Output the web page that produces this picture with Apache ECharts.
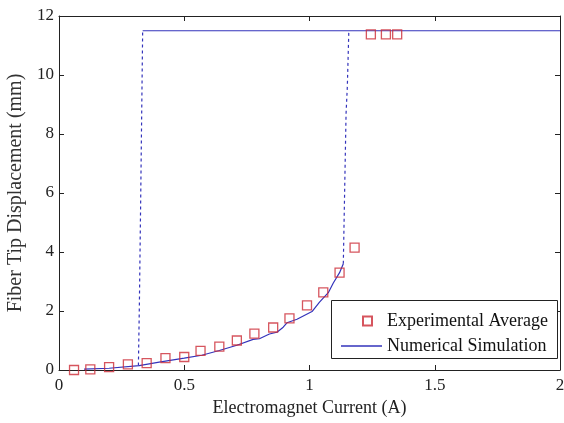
<!DOCTYPE html>
<html>
<head>
<meta charset="utf-8">
<script src="https://cdn.jsdelivr.net/npm/echarts@6/dist/echarts.min.js"></script>
<style>html,body{margin:0;padding:0;background:#fff}#c{width:564px;height:423px}</style>
</head>
<body>
<div id="c"></div>
<script>
// Experimental average [current A, displacement mm]
const expCurrent = [0.06, 0.125, 0.20, 0.275, 0.35, 0.425, 0.50, 0.565, 0.64, 0.71, 0.78, 0.855, 0.92, 0.99, 1.055, 1.12, 1.18, 1.245, 1.305, 1.35];
const expDisp    = [0.00, 0.02, 0.10, 0.19, 0.23, 0.40, 0.44, 0.65, 0.79, 1.00, 1.23, 1.44, 1.75, 2.19, 2.63, 3.30, 4.15, 11.38, 11.38, 11.38];

// Numerical simulation: lower (increasing current) branch
const simLowX = [0.10, 0.20, 0.32, 0.40, 0.50, 0.57, 0.64, 0.71, 0.775, 0.80, 0.84, 0.87, 0.895, 0.91, 0.95, 1.01, 1.04, 1.075, 1.095, 1.12, 1.135];
const simLowY = [0.03, 0.06, 0.15, 0.27, 0.40, 0.50, 0.66, 0.84, 1.04, 1.06, 1.22, 1.28, 1.45, 1.60, 1.72, 1.98, 2.30, 2.62, 2.95, 3.30, 3.60];
// Upper plateau
const simTopX = [0.334, 2.0];
const simTopY = [11.5, 11.5];
// Jump-down (left, dashed) and jump-up (right, dashed)
const jumpLeftX  = [0.317, 0.321, 0.326, 0.334];
const jumpLeftY  = [0.15, 2.3, 5.7, 11.5];
const jumpRightX = [1.135, 1.146, 1.151, 1.157];
const jumpRightY = [3.6, 8.7, 9.6, 11.5];

const xTicks = [0, 0.5, 1, 1.5, 2];
const yTicks = [0, 2, 4, 6, 8, 10, 12];

const zip = (a, b) => a.map((v, i) => [v, b[i]]);
const blue = '#3333bb';
const red = '#cc2b36';
const font = 'Liberation Serif';

const chart = echarts.init(document.getElementById('c'), null, {renderer: 'canvas'});
const axisCommon = {
  axisLine: {show: true, onZero: false, lineStyle: {color: '#222', width: 1}},
  axisTick: {show: true, inside: true, length: 5, lineStyle: {color: '#222'}},
  splitLine: {show: false}
};
chart.setOption({
  animation: false,
  backgroundColor: '#fff',
  grid: {left: 59, right: 4, top: 16, bottom: 53, containLabel: false, outerBoundsMode: 'none'},
  xAxis: [
    Object.assign({
      type: 'value', min: xTicks[0], max: xTicks[xTicks.length - 1], interval: 0.5,
      position: 'bottom',
      axisLabel: {color: '#222', fontFamily: font, fontSize: 17, margin: 7},
      name: 'Electromagnet Current (A)', nameLocation: 'middle', nameGap: 29,
      nameTextStyle: {color: '#222', fontFamily: font, fontSize: 18}
    }, axisCommon),
    Object.assign({
      type: 'value', min: xTicks[0], max: xTicks[xTicks.length - 1], interval: 0.5,
      position: 'top', axisLabel: {show: false}
    }, axisCommon)
  ],
  yAxis: [
    Object.assign({
      type: 'value', min: yTicks[0], max: yTicks[yTicks.length - 1], interval: 2,
      position: 'left',
      axisLabel: {color: '#222', fontFamily: font, fontSize: 17, margin: 5},
      name: 'Fiber Tip Displacement (mm)', nameLocation: 'middle', nameGap: 30,
      nameTextStyle: {color: '#333', fontFamily: font, fontSize: 20}
    }, axisCommon),
    Object.assign({
      type: 'value', min: yTicks[0], max: yTicks[yTicks.length - 1], interval: 2,
      position: 'right', axisLabel: {show: false}
    }, axisCommon)
  ],
  graphic: [{
    type: 'rect', left: 331, top: 300, z: 50,
    shape: {width: 226, height: 58},
    style: {fill: '#fff', stroke: '#222', lineWidth: 1}
  }],
  legend: [
    {
      data: [{name: 'Experimental Average', icon: 'rect'}], left: 357, top: 307, z: 60,
      itemWidth: 9, itemHeight: 9,
      textStyle: {color: '#111', fontFamily: font, fontSize: 18, padding: [0, 0, 0, 10]}
    },
    {
      data: [{name: 'Numerical Simulation', icon: 'rect'}], left: 336, top: 332, z: 60,
      itemWidth: 41, itemHeight: 1.3,
      itemStyle: {color: blue},
      textStyle: {color: '#111', fontFamily: font, fontSize: 18}
    }
  ],
  series: [
    {
      name: 'Numerical Simulation', type: 'line', data: zip(simLowX, simLowY),
      symbol: 'none', lineStyle: {color: blue, width: 1.2}, itemStyle: {color: blue}, z: 3
    },
    {
      name: 'simTop', type: 'line', data: zip(simTopX, simTopY),
      symbol: 'none', lineStyle: {color: blue, width: 1.2}, z: 3
    },
    {
      name: 'jumpLeft', type: 'line', data: zip(jumpLeftX, jumpLeftY),
      symbol: 'none', lineStyle: {color: blue, width: 1.2, type: [3, 3]}, z: 3
    },
    {
      name: 'jumpRight', type: 'line', data: zip(jumpRightX, jumpRightY),
      symbol: 'none', lineStyle: {color: blue, width: 1.2, type: [3, 3]}, z: 3
    },
    {
      name: 'Experimental Average', type: 'scatter', data: zip(expCurrent, expDisp),
      symbol: 'rect', symbolSize: 9, z: 4,
      itemStyle: {color: 'rgba(0,0,0,0)', borderColor: red, borderWidth: 1.3}
    }
  ]
});
</script>
</body>
</html>
